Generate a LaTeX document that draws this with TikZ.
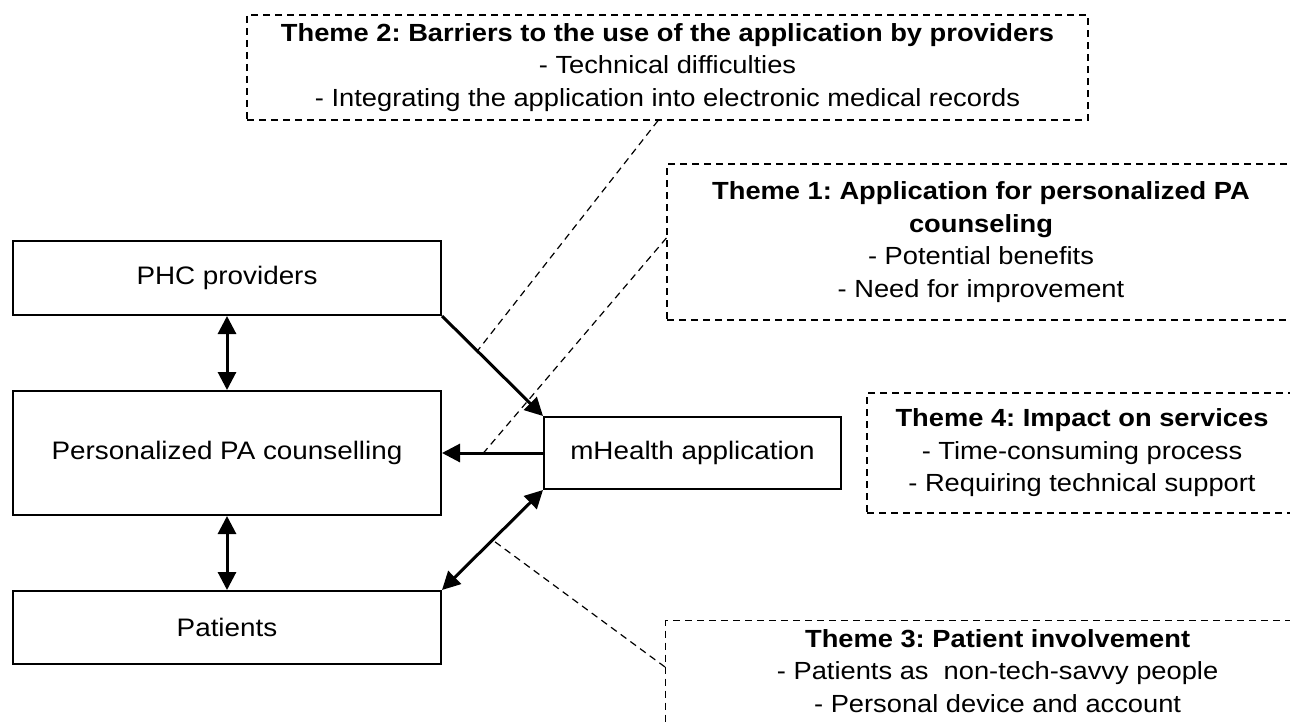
\documentclass[tikz,border=0pt]{standalone}
\usepackage{fontspec}
\setmainfont{Liberation Sans}[FakeStretch=1.1]
\usetikzlibrary{arrows.meta}
\frenchspacing
\begin{document}
\begin{tikzpicture}[x=1pt,y=-1pt,
  mainbox/.style={draw, line width=2pt, inner sep=0pt, align=center,
    font=\fontsize{25.3}{30}\selectfont},
  themebox/.style={draw, line width=1.2pt, dash pattern=on 7pt off 5pt,
    inner sep=0pt, align=center, font=\fontsize{24.8}{32.5}\selectfont},
  themetext/.style={inner sep=0pt, align=center, font=\fontsize{24.8}{32.5}\selectfont},
  arr/.style={line width=3pt, -{Triangle[length=18pt,width=18pt]}},
  darr/.style={line width=3pt, {Triangle[length=18pt,width=18pt]}-{Triangle[length=18pt,width=18pt]}},
  dashline/.style={line width=1.2pt, dash pattern=on 7pt off 5pt}]
\useasboundingbox (0,0) rectangle (1290,725);
\clip (0,0) rectangle (1290,725);
\fill[white] (0,0) rectangle (1290,725);

% main boxes
\node[mainbox, minimum width=428pt, minimum height=74pt] (phc) at (227,278) {PHC providers};
\node[mainbox, minimum width=428pt, minimum height=124pt] (pa) at (227,453) {Personalized PA counselling};
\node[mainbox, minimum width=428pt, minimum height=73pt] (pat) at (227,627.5) {Patients};
\node[mainbox, minimum width=297pt, minimum height=72pt] (mh) at (692.5,453) {mHealth application};

% theme boxes
\node[themebox, minimum width=841pt, minimum height=105pt] (t2) at (667.5,67.5)
  {\textbf{Theme 2: Barriers to the use of the application by providers}\\
   - Technical difficulties\\
   - Integrating the application into electronic medical records};
\node[themebox, minimum width=628pt, minimum height=156pt] (t1) at (981,242)
  {\textbf{Theme 1: Application for personalized PA}\\
   \textbf{counseling}\\
   - Potential benefits\\
   - Need for improvement};
\node[themebox, minimum width=430pt, minimum height=120pt] (t4) at (1082,453)
  {\textbf{Theme 4: Impact on services}\\
   - Time-consuming process\\
   - Requiring technical support};
\node[themebox, minimum width=665pt, minimum height=160pt, anchor=north west] (t3) at (665,620) {};
\node[themetext, anchor=north] (t3text) at ([xshift=-0.5pt,yshift=-9pt]t3.north)
  {\textbf{Theme 3: Patient involvement}\\
   - Patients as\ \ non-tech-savvy people\\
   - Personal device and account};

% connectors
\draw[darr] (phc.south) -- (pa.north);
\draw[darr] (pa.south) -- (pat.north);
\draw[arr] (phc.south east) -- coordinate[pos=0.35] (a1) (mh.north west);
\draw[arr] (mh.west) -- coordinate[pos=0.59] (a2) (pa.east);
\draw[darr] (mh.south west) -- coordinate[pos=0.5] (a3) (pat.north east);

% dashed links
\coordinate (c2) at ([xshift=-9.5pt]t2.south);
\coordinate (c1) at ([yshift=4pt]t1.west);
\coordinate (c3) at ([yshift=-47pt]t3.north west);
\draw[dashline] (c2) -- (a1);
\draw[dashline] (c1) -- (a2);
\draw[dashline] (c3) -- (a3);
\end{tikzpicture}
\end{document}
